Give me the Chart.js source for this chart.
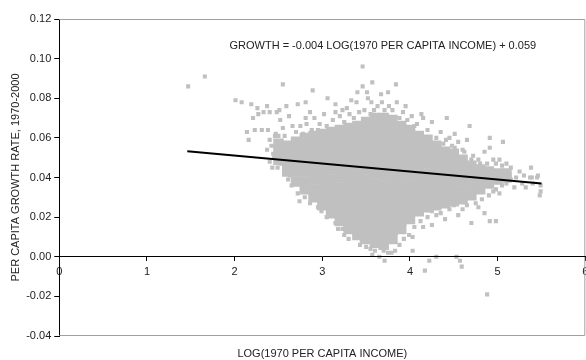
<!DOCTYPE html>
<html><head><meta charset="utf-8">
<script src="https://cdn.jsdelivr.net/npm/chart.js@4.4.0/dist/chart.umd.min.js"></script>
<style>html,body{margin:0;padding:0;background:#fff;overflow:hidden}#wrap{width:586px;height:360px;overflow:hidden}</style>
</head><body><div id="wrap"><canvas id="c" width="593" height="360"></canvas></div>
<script>
// ---- data ----
const xTicks = [0, 1, 2, 3, 4, 5, 6];
const yTicks = [-0.04, -0.02, 0, 0.02, 0.04, 0.06, 0.08, 0.10, 0.12];
const fitX = [1.46, 5.5];
const fitY = [0.0532, 0.037];
const equationText = 'GROWTH = -0.004 LOG(1970 PER CAPITA INCOME) + 0.059';
const xTitle = 'LOG(1970 PER CAPITA INCOME)';
const yTitle = 'PER CAPITA GROWTH RATE, 1970-2000';

// dense core of the cloud: columns of observations
const coreX = [2.5, 2.6, 2.7, 2.8, 2.9, 3.0, 3.1, 3.2, 3.3, 3.4, 3.5, 3.6, 3.7, 3.8, 3.9, 4.0, 4.1, 4.2, 4.3, 4.4, 4.5, 4.6, 4.7, 4.8, 4.9, 5.0, 5.1];
const coreY = [
  [0.049, 0.053, 0.057],
  [0.043, 0.047, 0.052, 0.056],
  [0.038, 0.043, 0.047, 0.051, 0.055, 0.058],
  [0.034, 0.038, 0.043, 0.047, 0.051, 0.056, 0.060],
  [0.030, 0.034, 0.039, 0.043, 0.047, 0.052, 0.056, 0.061],
  [0.026, 0.030, 0.035, 0.039, 0.043, 0.048, 0.052, 0.056, 0.060, 0.062],
  [0.022, 0.026, 0.031, 0.035, 0.039, 0.044, 0.048, 0.052, 0.057, 0.061, 0.063],
  [0.018, 0.022, 0.027, 0.031, 0.035, 0.040, 0.044, 0.048, 0.053, 0.057, 0.061, 0.064],
  [0.014, 0.018, 0.023, 0.027, 0.031, 0.036, 0.040, 0.044, 0.049, 0.053, 0.057, 0.062, 0.065],
  [0.011, 0.015, 0.020, 0.024, 0.028, 0.033, 0.037, 0.041, 0.046, 0.050, 0.054, 0.059, 0.063, 0.066],
  [0.009, 0.013, 0.018, 0.022, 0.026, 0.031, 0.035, 0.039, 0.044, 0.048, 0.052, 0.057, 0.061, 0.065, 0.068],
  [0.007, 0.011, 0.016, 0.020, 0.024, 0.029, 0.033, 0.037, 0.042, 0.046, 0.050, 0.055, 0.059, 0.063, 0.068, 0.070],
  [0.006, 0.010, 0.015, 0.019, 0.023, 0.028, 0.032, 0.036, 0.041, 0.045, 0.049, 0.054, 0.058, 0.062, 0.067, 0.070],
  [0.009, 0.013, 0.018, 0.022, 0.026, 0.031, 0.035, 0.039, 0.044, 0.048, 0.052, 0.057, 0.061, 0.065, 0.069],
  [0.014, 0.018, 0.023, 0.027, 0.031, 0.036, 0.040, 0.044, 0.049, 0.053, 0.057, 0.062, 0.066],
  [0.019, 0.023, 0.028, 0.032, 0.036, 0.041, 0.045, 0.049, 0.054, 0.058, 0.062, 0.064],
  [0.023, 0.027, 0.032, 0.036, 0.040, 0.045, 0.049, 0.053, 0.058, 0.061],
  [0.025, 0.029, 0.034, 0.038, 0.042, 0.047, 0.051, 0.055, 0.059],
  [0.026, 0.030, 0.035, 0.039, 0.043, 0.048, 0.052, 0.056],
  [0.027, 0.031, 0.036, 0.040, 0.044, 0.049, 0.053],
  [0.028, 0.032, 0.037, 0.041, 0.045, 0.050, 0.052],
  [0.029, 0.033, 0.038, 0.042, 0.046, 0.049],
  [0.031, 0.035, 0.040, 0.044, 0.046],
  [0.034, 0.038, 0.042, 0.044],
  [0.037, 0.041, 0.043],
  [0.039, 0.042],
  [0.040, 0.042]
];

// scattered observations around the core
const fringePoints = [
  [1.47,0.086],[1.66,0.091],
  [2.01,0.079],[2.08,0.078],[2.19,0.077],[2.26,0.075],[2.37,0.076],[2.33,0.073],[2.27,0.072],[2.21,0.070],
  [2.40,0.073],[2.48,0.073],[2.51,0.074],[2.59,0.076],[2.72,0.077],[2.81,0.078],[2.55,0.087],[2.14,0.063],
  [2.23,0.064],[2.31,0.064],[2.38,0.064],[2.16,0.059],[2.40,0.059],[2.37,0.054],[2.45,0.050],[2.50,0.061],
  [2.53,0.047],[2.47,0.062],[2.55,0.065],[2.52,0.069],[2.62,0.071],[2.66,0.066],[2.57,0.061],[2.56,0.053],
  [2.58,0.044],[2.61,0.039],[2.42,0.056],[2.44,0.052],[2.40,0.048],[2.46,0.061],[2.43,0.045],[2.49,0.045],
  [2.89,0.084],[3.06,0.080],[3.46,0.096],[3.57,0.088],[3.84,0.087],[3.46,0.086],[3.75,0.083],[3.51,0.083],
  [3.52,0.080],[3.56,0.078],[3.39,0.078],[3.68,0.078],[3.76,0.076],[3.23,0.074],[3.31,0.072],[3.42,0.073],
  [3.48,0.074],[3.59,0.074],[3.71,0.074],[3.92,0.073],[4.13,0.072],[4.15,0.070],[2.81,0.070],[2.91,0.070],
  [3.12,0.069],[3.20,0.071],[2.97,0.067],[2.82,0.067],[3.88,0.070],[3.97,0.069],[4.25,0.068],[3.02,0.072],
  [3.15,0.073],[3.36,0.070],[3.63,0.076],[3.80,0.074],[4.02,0.071],[4.08,0.067],[3.28,0.075],[2.75,0.066],
  [2.70,0.063],[2.86,0.073],[3.05,0.066],[3.55,0.072],[3.85,0.078],[3.95,0.076],[4.20,0.064],[4.05,0.066],
  [3.67,0.082],[3.40,0.083],[3.33,0.079],[3.15,0.077],[2.95,0.064],[2.78,0.062],[2.88,0.064],[3.25,0.068],
  [4.42,0.070],[4.68,0.066],[4.51,0.062],[4.41,0.059],[4.65,0.059],[5.06,0.058],[4.51,0.055],[4.91,0.055],
  [4.60,0.054],[4.85,0.053],[5.02,0.049],[5.38,0.045],[5.46,0.041],[5.37,0.040],[5.49,0.036],[4.91,0.060],
  [4.35,0.063],[4.45,0.060],[4.55,0.058],[4.72,0.051],[4.78,0.049],[4.95,0.049],[5.10,0.047],[5.15,0.045],
  [5.25,0.043],[5.30,0.041],[5.21,0.040],[5.39,0.040],[5.45,0.040],[4.88,0.047],[4.62,0.053],[4.30,0.060],
  [4.70,0.049],[5.05,0.046],[4.98,0.047],[4.38,0.057],[4.48,0.056],[4.80,0.047],
  [5.19,0.035],[5.48,0.031],[5.49,0.033],[5.10,0.037],[5.15,0.039],[5.28,0.037],[5.32,0.035],[5.40,0.037],
  [5.05,0.036],[4.98,0.034],[5.02,0.032],
  [4.70,0.017],[4.91,0.018],[4.98,0.018],[4.85,0.022],[4.25,0.016],[4.15,0.015],[4.00,0.018],[4.05,0.015],
  [4.20,0.020],[4.35,0.022],[4.45,0.024],[4.60,0.024],[4.75,0.027],[4.90,0.031],[4.82,0.029],[4.55,0.021],
  [4.40,0.019],[4.30,0.021],[4.12,0.018],[4.65,0.026],[4.95,0.033],[4.50,0.026],[4.25,0.023],[4.78,0.025],
  [2.72,0.032],[2.74,0.028],[2.99,0.023],[3.23,0.014],[3.35,0.014],[3.43,0.006],[2.65,0.036],[2.80,0.030],
  [2.86,0.027],[2.95,0.025],[3.05,0.020],[3.15,0.017],[3.25,0.011],[3.30,0.009],[3.45,0.0075],[3.50,0.005],
  [2.63,0.041],[2.68,0.038],[2.92,0.029],[3.10,0.022],[3.18,0.014],[3.38,0.010],[2.77,0.034],[3.02,0.026],
  [3.57,0.001],[3.65,0.000],[3.71,-0.002],[3.79,0.002],[3.83,0.003],[3.99,0.011],[4.03,0.010],[4.03,0.003],
  [4.22,-0.002],[4.30,0.000],[4.17,-0.007],[4.53,0.000],[4.59,-0.005],[4.57,-0.002],[4.88,-0.019],[3.60,0.003],
  [3.75,0.002],[3.88,0.006],[3.93,0.009],[3.70,0.003],[3.55,0.004]
];

// ---- build library tables ----
const coreData = [];
coreX.forEach((x, i) => coreY[i].forEach(y => coreData.push({x: x, y: y})));
const fringeData = fringePoints.map(p => ({x: p[0], y: p[1]}));
const fitData = fitX.map((x, i) => ({x: x, y: fitY[i]}));

const FONT = {family: "'Liberation Sans', Arial, sans-serif", size: 11};
const TXT = '#222';
const GREY = '#c0c0c0';

const framePlugin = {
  id: 'frame',
  beforeDatasetsDraw(chart) {
    const {ctx, chartArea: a} = chart;
    ctx.save();
    ctx.strokeStyle = '#a0a0a0';
    ctx.lineWidth = 1;
    ctx.beginPath();
    ctx.moveTo(a.left, a.top + 0.5);
    ctx.lineTo(a.right - 0.5, a.top + 0.5);
    ctx.lineTo(a.right - 0.5, a.bottom - 0.5);
    ctx.lineTo(a.left, a.bottom - 0.5);
    ctx.stroke();
    ctx.restore();
  },
  afterDatasetsDraw(chart, args, opts) {
    const {ctx, scales} = chart;
    ctx.save();
    ctx.font = "11px 'Liberation Sans', Arial, sans-serif";
    ctx.fillStyle = TXT;
    ctx.textAlign = 'center';
    ctx.textBaseline = 'middle';
    ctx.fillText(opts.text, scales.x.getPixelForValue(opts.x), scales.y.getPixelForValue(opts.y));
    ctx.restore();
  }
};

new Chart(document.getElementById('c'), {
  type: 'scatter',
  data: {
    datasets: [
      {type: 'line', data: fitData, borderColor: '#000', borderWidth: 2, pointRadius: 0, fill: false, order: 0},
      {data: fringeData, backgroundColor: GREY, pointStyle: 'rect', pointRadius: 2.9, pointBorderWidth: 0, order: 1},
      {data: coreData, backgroundColor: GREY, pointStyle: 'rect', pointRadius: 7.4, pointBorderWidth: 0, order: 2}
    ]
  },
  options: {
    responsive: false,
    animation: false,
    events: [],
    layout: {padding: {left: 2, top: 19, right: 0, bottom: 0}},
    plugins: {
      legend: {display: false},
      tooltip: {enabled: false},
      frame: {text: equationText, x: 3.69, y: 0.1064}
    },
    scales: {
      x: {
        type: 'linear', min: 0, max: 6, position: {y: 0},
        afterBuildTicks: s => { s.ticks = xTicks.map(v => ({value: v})); },
        ticks: {font: FONT, color: TXT, padding: 4.6, maxRotation: 0, callback: v => String(v)},
        grid: {drawOnChartArea: false, drawTicks: true, tickLength: 4, color: '#000'},
        border: {display: true, color: '#000', width: 1, z: 1}
      },
      x2: {
        type: 'linear', min: 0, max: 6, position: 'bottom',
        ticks: {display: false},
        grid: {display: false, drawTicks: false},
        border: {display: false},
        title: {display: true, text: xTitle, font: FONT, color: TXT, padding: {top: 11.8, bottom: -1}}
      },
      y: {
        type: 'linear', min: -0.04, max: 0.12, position: 'left',
        afterBuildTicks: s => { s.ticks = yTicks.map(v => ({value: v})); },
        ticks: {font: FONT, color: TXT, padding: 3, callback: v => Number(v).toFixed(2)},
        grid: {drawOnChartArea: false, drawTicks: true, tickLength: 5, color: '#000'},
        border: {display: true, color: '#000', width: 1},
        title: {display: true, text: yTitle, font: FONT, color: TXT, padding: {top: 7.4, bottom: 0.6}}
      }
    }
  },
  plugins: [framePlugin]
});
</script>
</body></html>
